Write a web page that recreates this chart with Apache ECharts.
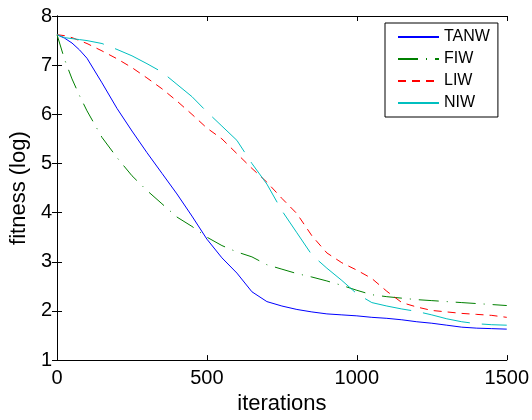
<!DOCTYPE html>
<html>
<head>
<meta charset="utf-8">
<script src="https://cdn.jsdelivr.net/npm/echarts@6/dist/echarts.min.js"></script>
<style>
html,body{margin:0;padding:0;background:#fff;}
#chart{width:532px;height:420px;}
</style>
</head>
<body>
<div id="chart"></div>
<script>
var iterations = [0, 25, 50, 75, 100, 150, 200, 250, 300, 350, 400, 450, 500, 550, 600, 650, 700, 750, 800, 850, 900, 950, 1000, 1050, 1100, 1150, 1200, 1250, 1300, 1350, 1400, 1450, 1500];
var tanw = [7.62, 7.55, 7.45, 7.31, 7.14, 6.64, 6.12, 5.66, 5.22, 4.80, 4.38, 3.93, 3.46, 3.08, 2.77, 2.39, 2.19, 2.10, 2.03, 1.98, 1.94, 1.92, 1.90, 1.87, 1.85, 1.82, 1.78, 1.75, 1.71, 1.67, 1.65, 1.64, 1.63];
var fiw  = [7.62, 7.12, 6.72, 6.38, 6.07, 5.53, 5.12, 4.75, 4.45, 4.18, 3.91, 3.72, 3.50, 3.33, 3.20, 3.10, 2.94, 2.85, 2.76, 2.69, 2.61, 2.52, 2.42, 2.33, 2.29, 2.26, 2.23, 2.21, 2.19, 2.17, 2.15, 2.13, 2.11];
var liw  = [7.62, 7.60, 7.56, 7.50, 7.44, 7.29, 7.13, 6.95, 6.74, 6.52, 6.27, 6.00, 5.72, 5.50, 5.20, 4.90, 4.62, 4.29, 3.98, 3.53, 3.18, 2.98, 2.83, 2.66, 2.40, 2.17, 2.08, 2.01, 1.98, 1.95, 1.93, 1.91, 1.87];
var niw  = [7.62, 7.56, 7.54, 7.52, 7.50, 7.44, 7.32, 7.19, 7.03, 6.86, 6.61, 6.36, 6.05, 5.76, 5.47, 5.00, 4.58, 4.04, 3.59, 3.14, 2.87, 2.62, 2.35, 2.17, 2.10, 2.04, 1.99, 1.92, 1.84, 1.78, 1.74, 1.72, 1.71];
var seriesNames = ['TANW', 'FIW', 'LIW', 'NIW'];
var xTicks = [0, 500, 1000, 1500];
var yTicks = [1, 2, 3, 4, 5, 6, 7, 8];

function pairs(vals) { return iterations.map(function (x, i) { return [x, vals[i]]; }); }

var FONT = 'Liberation Sans';
var chart = echarts.init(document.getElementById('chart'), null, {renderer: 'canvas'});
var axisCommon = {
  axisLine: {show: true, lineStyle: {color: '#000', width: 1}},
  axisTick: {show: true, inside: true, length: 5, lineStyle: {color: '#000'}},
  splitLine: {show: false}
};
function mkLine(name, data, color, dash) {
  return {
    name: name, type: 'line', data: data, symbol: 'none', showSymbol: false,
    xAxisIndex: 0, yAxisIndex: 0,
    lineStyle: {color: color, width: 1, type: dash},
    itemStyle: {color: color},
    animation: false
  };
}
chart.setOption({
  backgroundColor: '#fff',
  animation: false,
  grid: {left: 54, right: 25, top: 16, bottom: 57, containLabel: false},
  legend: {
    data: seriesNames,
    orient: 'vertical',
    left: 385, top: 23,
    padding: [6, 8, 6, 12],
    itemWidth: 41, itemHeight: 14, itemGap: 6,
    borderColor: '#000', borderWidth: 1, backgroundColor: '#fff',
    itemStyle: {color: 'rgba(0,0,0,0)', borderColor: 'rgba(0,0,0,0)', borderWidth: 0, opacity: 0},
    textStyle: {fontFamily: FONT, fontSize: 16, color: '#000'}
  },
  xAxis: [
    Object.assign({
      type: 'value', min: xTicks[0], max: xTicks[xTicks.length - 1], interval: 500,
      name: 'iterations', nameLocation: 'middle', nameGap: 28,
      nameTextStyle: {fontFamily: FONT, fontSize: 22, color: '#000'},
      axisLabel: {fontFamily: FONT, fontSize: 20, color: '#000', margin: 8,
        formatter: function (v) { return xTicks.indexOf(v) >= 0 ? String(v) : ''; }}
    }, axisCommon),
    Object.assign({
      type: 'value', position: 'top', min: 0, max: 1500, interval: 500,
      axisLabel: {show: false}
    }, axisCommon)
  ],
  yAxis: [
    Object.assign({
      type: 'value', min: yTicks[0], max: yTicks[yTicks.length - 1], interval: 1,
      name: 'fitness (log)', nameLocation: 'middle', nameGap: 26,
      nameTextStyle: {fontFamily: FONT, fontSize: 22, color: '#000'},
      axisLabel: {fontFamily: FONT, fontSize: 20, color: '#000', margin: 5}
    }, axisCommon),
    Object.assign({
      type: 'value', position: 'right', min: 1, max: 8, interval: 1,
      axisLabel: {show: false}
    }, axisCommon)
  ],
  series: [
    mkLine('TANW', pairs(tanw), '#0000ff', 'solid'),
    mkLine('FIW', pairs(fiw), '#008000', [20, 8, 1, 8]),
    mkLine('LIW', pairs(liw), '#ff0000', [8, 6]),
    mkLine('NIW', pairs(niw), '#00bfbf', [48, 12])
  ]
});
</script>
</body>
</html>
